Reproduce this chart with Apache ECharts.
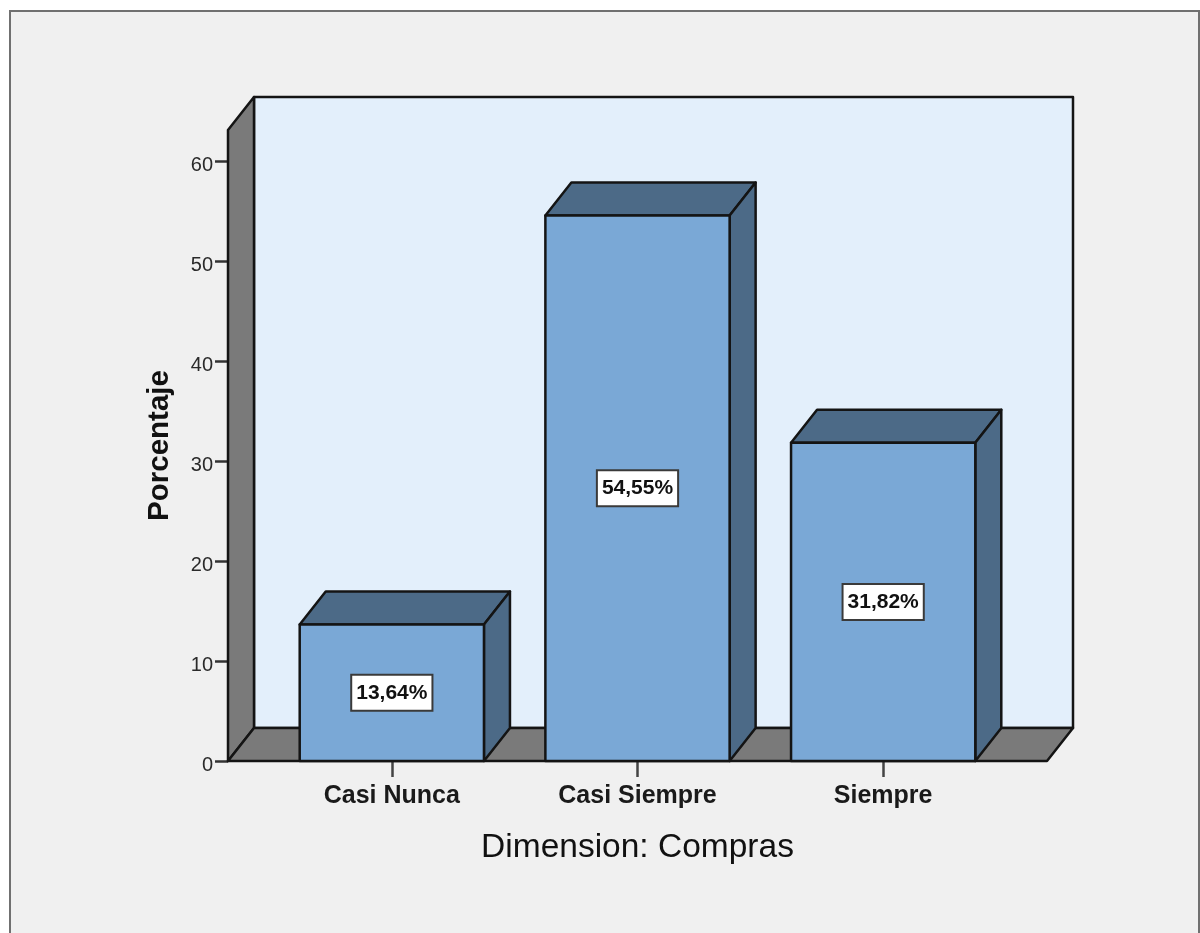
<!DOCTYPE html>
<html>
<head>
<meta charset="utf-8" />
<title>Dimension: Compras</title>
<script src="https://cdn.jsdelivr.net/npm/echarts@6/dist/echarts.min.js"></script>
<style>
html,body{margin:0;padding:0;background:#fff;overflow:hidden;}
#chart{width:1200px;height:933px;}
</style>
</head>
<body>
<div id="chart"></div>
<script>
var categories = ['Casi Nunca', 'Casi Siempre', 'Siempre'];
var percents = [13.64, 54.55, 31.82];
var yTicks = [0, 10, 20, 30, 40, 50, 60];
var yMax = 63.1;

var depthX = 26, depthY = 33;   // oblique depth of the fake 3d
var sideGap = 41;               // walls stick out past the category band
var lineColor = '#141414';

function poly(points, fill){
	return {
		type:'polygon',
		shape:{points:points},
		style:{fill:fill, stroke:lineColor, lineWidth:2.5, lineJoin:'round'}
	};
}

// back wall, side wall and floor
function renderWalls(params, api){
	var c = params.coordSys;
	var left = c.x - sideGap, right = c.x + c.width + sideGap;
	var bottom = c.y + c.height, top = c.y;
	return {
		type:'group',
		children:[
			poly([[left+depthX,top-depthY],[right+depthX,top-depthY],[right+depthX,bottom-depthY],[left+depthX,bottom-depthY]], '#e3effb'),
			poly([[left,top],[left+depthX,top-depthY],[left+depthX,bottom-depthY],[left,bottom]], '#7a7a7a'),
			poly([[left,bottom],[left+depthX,bottom-depthY],[right+depthX,bottom-depthY],[right,bottom]], '#7a7a7a')
		]
	};
}

function renderBar(params, api){
	var val = api.value(1);
	var p = api.coord([api.value(0), val]);
	var base = api.coord([api.value(0), 0]);
	var w = api.size([1, 0])[0] * 0.75;
	var l = p[0] - w/2, r = p[0] + w/2, t = p[1], b = base[1];
	return {
		type:'group',
		children:[
			poly([[l,t],[l+depthX,t-depthY],[r+depthX,t-depthY],[r,t]], '#4c6a87'),
			poly([[r,t],[r+depthX,t-depthY],[r+depthX,b-depthY],[r,b]], '#4c6a87'),
			poly([[l,t],[r,t],[r,b],[l,b]], '#7aa8d6'),
			{
				type:'text',
				z2:10,
				style:{
					x:p[0], y:(t+b)/2,
					text:val.toFixed(2).replace('.',',') + '%',
					align:'center', verticalAlign:'middle',
					font:'bold 21px "Liberation Sans"',
					fill:'#111',
					backgroundColor:'#fff',
					borderColor:'#3a3a3a',
					borderWidth:2,
					padding:[7,4,6,4],
					shadowBlur:0
				}
			}
		]
	};
}

var myChart = echarts.init(document.getElementById('chart'));
myChart.setOption({
	backgroundColor:'#fff',
	animation:false,
	graphic:[{
		type:'rect',
		z:-10,
		shape:{x:10, y:11, width:1189, height:930},
		style:{fill:'#f0f0f0', stroke:'#707070', lineWidth:2}
	}],
	grid:{left:269, top:130, width:737, height:631},
	xAxis:{
		type:'category',
		data:categories,
		axisLine:{show:false},
		axisTick:{show:true, alignWithLabel:true, length:16, lineStyle:{color:'#444', width:2.5}},
		axisLabel:{color:'#1a1a1a', fontFamily:'Liberation Sans', fontWeight:'bold', fontSize:25, margin:23},
		name:'Dimension: Compras',
		nameLocation:'middle',
		nameGap:70,
		nameTextStyle:{color:'#111', fontFamily:'Liberation Sans', fontSize:33.5}
	},
	yAxis:{
		type:'value',
		min:0,
		max:yMax,
		offset:sideGap,
		splitLine:{show:false},
		axisLine:{show:false},
		axisTick:{show:true, length:13, customValues:yTicks, lineStyle:{color:'#333', width:2.5}},
		axisLabel:{color:'#2a2a2a', fontFamily:'Liberation Sans', fontSize:20, margin:15, verticalAlign:'top', padding:[-6,0,0,0], customValues:yTicks},
		name:'Porcentaje',
		nameLocation:'middle',
		nameGap:53,
		nameTextStyle:{color:'#111', fontFamily:'Liberation Sans', fontWeight:'bold', fontSize:29.5}
	},
	series:[
		{
			type:'custom',
			clip:false,
			silent:true,
			z:1,
			renderItem:renderWalls,
			data:[[0, yMax]]
		},
		{
			type:'custom',
			clip:false,
			silent:true,
			z:2,
			renderItem:renderBar,
			encode:{x:0, y:1},
			data:percents.map(function(v, i){ return [i, v]; })
		}
	]
});
</script>
</body>
</html>
